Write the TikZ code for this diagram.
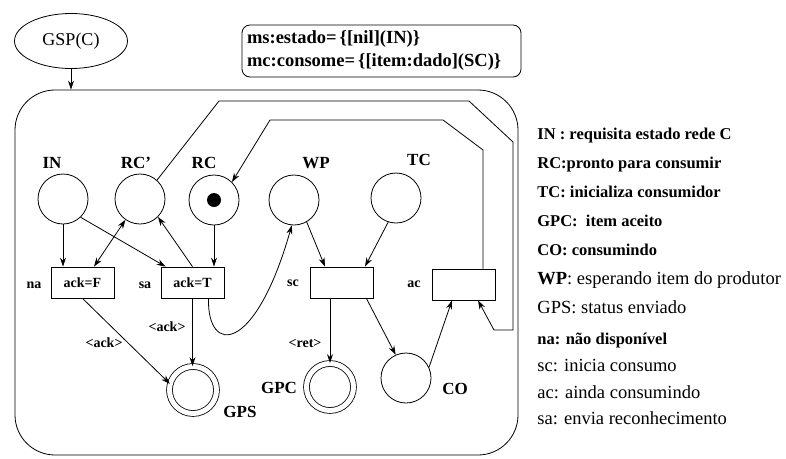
\documentclass[tikz,border=0pt]{standalone}
\usepackage{fontspec}
\setmainfont{Liberation Serif}
\usetikzlibrary{shapes.geometric, arrows.meta}

\newcommand\lgb[1]{{\fontsize{16.5}{29}\selectfont\bfseries #1}}

\tikzset{
  place/.style={circle, draw, minimum size=50pt, inner sep=0pt},
  goal/.style={circle, draw, double, double distance=5pt, minimum size=47pt, inner sep=0pt},
  trans/.style={rectangle, draw, minimum width=63pt, minimum height=31pt, inner sep=0pt,
    font=\bfseries\fontsize{14}{14}\selectfont},
  tag/.style={font=\bfseries\fontsize{17}{17}\selectfont},
  small/.style={font=\bfseries\fontsize{14}{14}\selectfont},
  arc/.style={->},
}

\begin{document}
\begin{tikzpicture}[x=1pt, y=-1pt, line width=0.8pt, >={Stealth[length=9pt, width=6pt]}]
    \useasboundingbox (0,0) rectangle (786,458);

    \node[ellipse, draw, minimum width=113pt, minimum height=55pt, inner sep=0pt,
          font=\fontsize{18}{18}\selectfont] (GSP) at (71,41) {GSP(C)};
    \node[draw, rounded corners=8pt, text width=269pt, minimum height=52pt, inner sep=5pt,
          align=left, font=\bfseries\fontsize{18.5}{23}\selectfont] (decl) at (381.5,51)
        {ms:estado=\,\{[nil](IN)\}\\ mc:consome=\,\{[item:dado](SC)\}};
    \node[draw, rounded corners=40pt, minimum width=503pt, minimum height=365pt] (sub) at (266.5,272.5) {};
    \draw[arc] (GSP.south) -- (GSP.south |- sub.north);

    % places
    \node[place] (IN) at (63,199) {};
    \node[place] (RCp) at (140,199) {};
    \node[place] (RC) at (214,200) {};
    \node[circle, fill, minimum size=14pt, inner sep=0pt] (tok) at (RC) {};
    \node[place] (WP) at (294,200) {};
    \node[place] (TC) at (396,198) {};
    \node[place] (CO) at (406,378) {};
    \node[goal] (GPS) at (193,390) {};
    \node[goal] (GPC) at (330,387) {};

    % transitions
    \node[trans] (na) at (82.5,282.5) {ack=F};
    \node[trans] (sa) at (192.5,282.5) {ack=T};
    \node[trans] (sc) at (341.5,282.5) {};
    \node[trans] (ac) at (464,284.5) {};

    % names
    \node[tag] (lIN) at (52,163) {IN};
    \node[tag] (lRCp) at (136,163) {RC'};
    \node[tag] (lRC) at (204,163) {RC};
    \node[tag] (lWP) at (316,163) {WP};
    \node[tag] (lTC) at (419,160) {TC};
    \node[tag] (lCO) at (455,389) {CO};
    \node[tag] (lGPS) at (240,412) {GPS};
    \node[tag] (lGPC) at (279,388) {GPC};
    \node[small] (lna) at (34,285) {na};
    \node[small] (lsa) at (145,285) {sa};
    \node[small] (lsc) at (293,283) {sc};
    \node[small] (lac) at (414,284) {ac};
    \node[small] (k1) at (167,327) {<ack>};
    \node[small] (k2) at (104,343) {<ack>};
    \node[small] (k3) at (305,343) {<ret>};

    % arcs
    \draw[arc] (IN.south) -- (IN.south |- na.north);
    \draw[arc] (IN.-46) -- ([xshift=5pt]sa.north west);
    \draw[<->] (RCp.-125) -- ([xshift=11.5pt]na.north);
    \draw[arc] (sa.north) -- (RCp.-45);
    \draw[arc] (RC.south) -- (RC.south |- sa.north);
    \draw[arc] (na.south) -- (GPS.165);
    \draw[arc] (sa.south) -- (sa.south |- GPS.north);
    \draw[arc] ([xshift=16pt]sa.south) .. controls (207,355) and (255,355) .. (WP.-95);
    \draw[arc] (WP.-60) -- ([xshift=-16.5pt]sc.north);
    \draw[arc] (TC.-108) -- ([xshift=23.5pt]sc.north);
    \draw[arc] (GPC.north |- sc.south) -- (GPC.north);
    \draw[arc] ([xshift=-7pt]sc.south east) -- (CO.114);
    \draw[arc] (CO.25) -- ([xshift=-12pt]ac.south);
    \draw[arc] (RCp.48) -- (219,101) -- (469,101) -- (513,142) -- (513,330) -- (494,330) -- ([xshift=14pt]ac.south);
    \draw[arc] ([xshift=19pt]ac.north) -- (483,150) -- (443,120) -- (270,120) -- (RC.45);

    \node[anchor=north west, align=left, inner sep=0pt, font=\fontsize{18.5}{29}\selectfont] (legend) at (537,128) {
        \lgb{IN : requisita estado rede C}\\
        \lgb{RC:pronto para consumir}\\
        \lgb{TC: inicializa consumidor}\\
        \lgb{GPC:~ item aceito}\\
        \lgb{CO: consumindo}\\
        \textbf{WP}: esperando item do produtor\\
        GPS: status enviado\\[2pt]
        \lgb{na: não disponível}\\[-2.3pt]
        sc: inicia consumo\\[-2.3pt]
        ac: ainda consumindo\\[-2.3pt]
        sa: envia reconhecimento
    };
\end{tikzpicture}
\end{document}
